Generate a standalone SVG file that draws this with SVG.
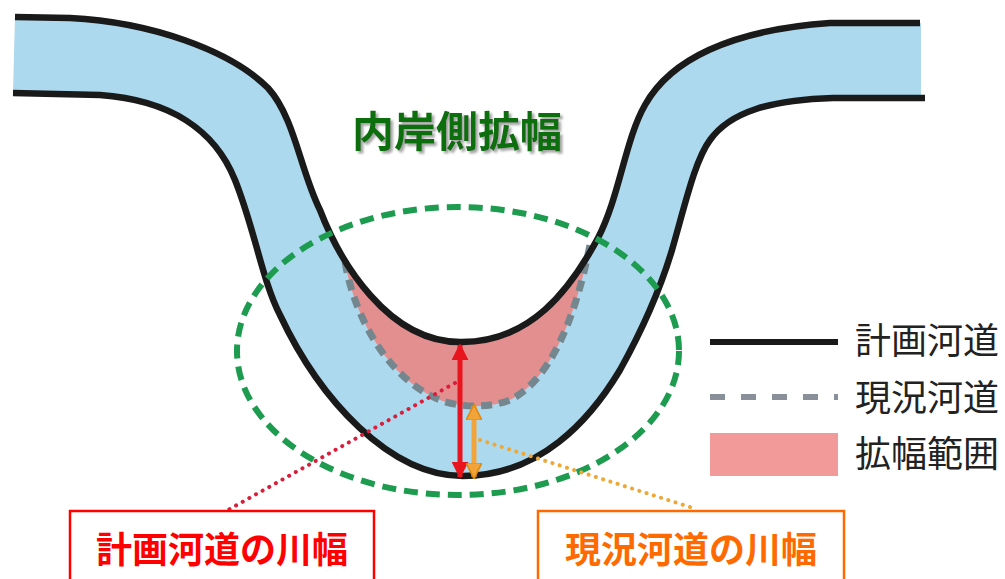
<svg xmlns="http://www.w3.org/2000/svg" width="1005" height="579" viewBox="0 0 1005 579">
<style>
.bank{fill:none;stroke:#1a1a1a;stroke-width:6.5;stroke-linejoin:round}
.jp{font-family:"Noto Sans CJK JP","Noto Sans CJK SC",sans-serif}
.leg{font-size:36px;fill:#222}
.lbl{font-size:36px;font-weight:bold;text-anchor:middle}
</style>
<defs>
<clipPath id="chan">
<path d="M15,17 L70,18 C150,22 230,50 268,88 C295,118 300,170 320,210 C340,262 388,342 460,342 C530,343 570,290 598,238 C620,195 625,140 645,105 C670,60 730,30 830,23 L921,23 L921,98 L833,98 C770,100 730,112 710,140 C695,160 685,205 672,250 C660,290 645,325 620,370 C590,420 540,476 463,476 C390,476 320,400 280,315 C262,280 255,230 235,180 C215,130 170,100 100,95 L13,93 Z"/>
</clipPath>
<filter id="shadow" x="-10%" y="-20%" width="130%" height="150%">
<feDropShadow dx="2.5" dy="2.5" stdDeviation="1" flood-color="#9a9a9a" flood-opacity="0.9"/>
</filter>
<marker id="ahR" viewBox="0 0 10 10" refX="9" refY="5" markerWidth="3.4" markerHeight="3.4" orient="auto-start-reverse" markerUnits="strokeWidth"><path d="M0,0 L10,5 L0,10 Z" fill="#e8141e"/></marker>
<marker id="ahO" viewBox="0 0 10 10" refX="9" refY="5" markerWidth="3.2" markerHeight="3.2" orient="auto-start-reverse" markerUnits="strokeWidth"><path d="M0,0 L10,5 L0,10 Z" fill="#f2a43a" stroke="#e08a10" stroke-width="1"/></marker>
</defs>
<rect width="1005" height="579" fill="#fff"/>
<g id="channel">
<path d="M15,17 L70,18 C150,22 230,50 268,88 C295,118 300,170 320,210 C340,262 388,342 460,342 C530,343 570,290 598,238 C620,195 625,140 645,105 C670,60 730,30 830,23 L921,23 L921,98 L833,98 C770,100 730,112 710,140 C695,160 685,205 672,250 C660,290 645,325 620,370 C590,420 540,476 463,476 C390,476 320,400 280,315 C262,280 255,230 235,180 C215,130 170,100 100,95 L13,93 Z" fill="#acd9ee"/>
<path clip-path="url(#chan)" d="M345,262 C355,320 390,380 440,400 C460,408 490,408 510,400 C550,380 575,320 590,245 L600,225 L330,225 Z" fill="#e38e8f"/>
<path d="M345,262 C355,320 390,380 440,400 C460,408 490,408 510,400 C550,380 575,320 590,245" fill="none" stroke="#74878f" stroke-width="7" stroke-dasharray="11 7"/>
<path class="bank" d="M15,17 L70,18 C150,22 230,50 268,88 C295,118 300,170 320,210 C340,262 388,342 460,342 C530,343 570,290 598,238 C620,195 625,140 645,105 C670,60 730,30 830,23 L920,23"/>
<path class="bank" d="M13,93 L100,95 C170,100 215,130 235,180 C255,230 262,280 280,315 C320,400 390,476 463,476 C540,476 590,420 620,370 C645,325 660,290 672,250 C685,205 695,160 710,140 C730,112 770,100 833,98 L925,98"/>
</g>
<g id="focus-ellipse">
<ellipse cx="458" cy="351" rx="221" ry="144" fill="none" stroke="#1d9b4f" stroke-width="6" stroke-dasharray="14 8"/>
</g>
<g id="connectors">
<line x1="455" y1="383" x2="228" y2="510" stroke="#d81e3a" stroke-width="4" stroke-linecap="round" stroke-dasharray="0.1 7.5"/>
<line x1="480" y1="440" x2="693" y2="508" stroke="#eda838" stroke-width="4" stroke-linecap="round" stroke-dasharray="0.1 7.5"/>
<line x1="460" y1="345" x2="460" y2="477" stroke="#e8141e" stroke-width="5" marker-start="url(#ahR)" marker-end="url(#ahR)"/>
<line x1="474" y1="406" x2="474" y2="477" stroke="#f2a43a" stroke-width="5" marker-start="url(#ahO)" marker-end="url(#ahO)"/>
</g>
<g id="title">
<text class="jp" x="457" y="147" font-size="42" font-weight="bold" text-anchor="middle" fill="#0b6e0b" filter="url(#shadow)">内岸側拡幅</text>
</g>
<g id="legend">
<line x1="710" y1="342" x2="838" y2="342" stroke="#1a1a1a" stroke-width="6"/>
<text class="jp leg" x="855" y="354">計画河道</text>
<line x1="710" y1="397" x2="838" y2="397" stroke="#8a9099" stroke-width="6" stroke-dasharray="15 16"/>
<text class="jp leg" x="855" y="411">現況河道</text>
<rect x="710" y="433" width="128" height="43" fill="#f29a9a"/>
<text class="jp leg" x="855" y="467">拡幅範囲</text>
</g>
<g id="label-plan">
<rect x="70" y="511" width="304" height="90" fill="#fff" stroke="#ff0000" stroke-width="2.5"/>
<text class="jp lbl" x="222" y="563" fill="#ff0000">計画河道の川幅</text>
</g>
<g id="label-current">
<rect x="538" y="511" width="306" height="90" fill="#fff" stroke="#ff6a00" stroke-width="2.5"/>
<text class="jp lbl" x="691" y="563" fill="#ff6a00">現況河道の川幅</text>
</g>
</svg>
